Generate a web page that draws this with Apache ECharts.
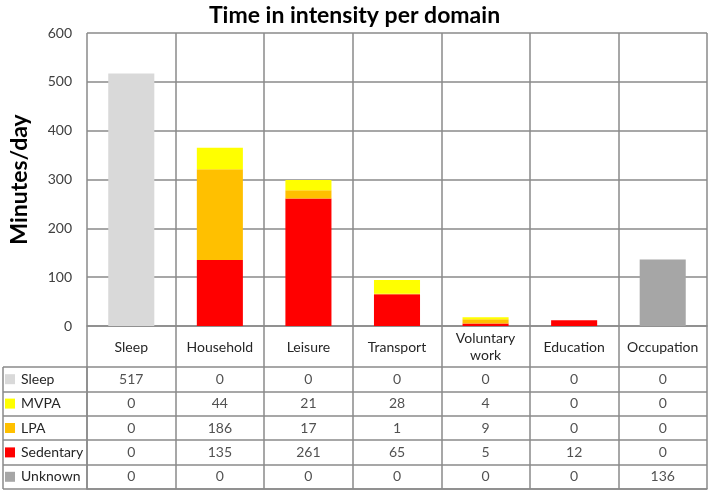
<!DOCTYPE html>
<html><head><meta charset="utf-8">
<script src="https://cdn.jsdelivr.net/npm/echarts@6/dist/echarts.min.js"></script>
<style>html,body{margin:0;padding:0;background:#fff}#c{width:709px;height:491px}</style>
</head><body><div id="c"></div>
<script>
const categories = ['Sleep','Household','Leisure','Transport','Voluntary\nwork','Education','Occupation'];
const sleep     = [517, 0, 0, 0, 0, 0, 0];
const mvpa      = [0, 44, 21, 28, 4, 0, 0];
const lpa       = [0, 186, 17, 1, 9, 0, 0];
const sedentary = [0, 135, 261, 65, 5, 12, 0];
const unknown   = [0, 0, 0, 0, 0, 0, 136];
const yTicks = [0, 100, 600];

const rows = [
  {name:'Sleep', data:sleep, color:'#d9d9d9'},
  {name:'MVPA', data:mvpa, color:'#ffff00'},
  {name:'LPA', data:lpa, color:'#ffc000'},
  {name:'Sedentary', data:sedentary, color:'#ff0000'},
  {name:'Unknown', data:unknown, color:'#a6a6a6'}
];
const stackOrder = ['Sedentary','LPA','MVPA','Sleep','Unknown'];
const FONT = 'Lato';
const GRID = '#8a8a8a';

const chart = echarts.init(document.getElementById('c'), null, {renderer:'canvas'});

const barSeries = stackOrder.map(n => {
  const r = rows.find(x => x.name === n);
  return {name:n, type:'bar', stack:'all', xAxisIndex:0, yAxisIndex:0,
    barWidth:'52%', data:r.data, itemStyle:{color:r.color}, silent:true};
});

const tableData = [];
rows.forEach((r, ri) => r.data.forEach((v, ci) => tableData.push([ci, ri, v])));

const rich = {};
rows.forEach((r, i) => { rich['s'+i] = {width:10, height:10, backgroundColor:r.color}; });
rich.t = {fontFamily:FONT, fontSize:14, color:'#262626', padding:[0,0,0,6]};

chart.setOption({
  animation:false,
  title:{text:'Time in intensity per domain', left:'center', top:-1,
    textStyle:{fontFamily:FONT, fontSize:23, fontWeight:'bold', color:'#000'}},
  grid:[
    {left:87, right:2, top:33, bottom:165},
    {left:87, right:2, top:367, bottom:2}
  ],
  xAxis:[
    {type:'category', gridIndex:0, data:categories, boundaryGap:true,
      axisLine:{show:true, lineStyle:{color:GRID, width:1.5}},
      axisTick:{show:true, length:41, lineStyle:{color:GRID, width:1.5}},
      axisLabel:{fontFamily:FONT, fontSize:14, color:'#262626', margin:21, verticalAlign:'middle', lineHeight:17, interval:0},
      splitLine:{show:true, lineStyle:{color:GRID, width:1.5}}},
    {type:'category', gridIndex:1, data:categories, boundaryGap:true,
      axisLine:{show:true, lineStyle:{color:GRID, width:1.5}},
      axisTick:{show:false}, axisLabel:{show:false},
      splitLine:{show:true, lineStyle:{color:GRID, width:1.5}}}
  ],
  yAxis:[
    {type:'value', gridIndex:0, min:yTicks[0], max:yTicks[2], interval:yTicks[1],
      name:'Minutes/day', nameLocation:'middle', nameGap:56,
      nameTextStyle:{fontFamily:FONT, fontSize:23, fontWeight:'bold', color:'#000'},
      axisLine:{show:false}, axisTick:{show:false},
      axisLabel:{fontFamily:FONT, fontSize:14, color:'#404040', margin:15},
      splitLine:{show:true, lineStyle:{color:GRID, width:1.5}}},
    {type:'category', gridIndex:1, inverse:true, data:rows.map(r => r.name),
      axisLine:{show:true, lineStyle:{color:GRID, width:1.5}},
      axisTick:{show:true, length:84, lineStyle:{color:GRID, width:1.5}},
      axisLabel:{align:'left', margin:82, formatter:(v, i) => '{s'+i+'|}{t|'+v+'}', rich:rich},
      splitLine:{show:true, lineStyle:{color:GRID, width:1.5}}}
  ],
  series:[...barSeries, {
    type:'scatter', xAxisIndex:1, yAxisIndex:1, data:tableData, symbolSize:1,
    itemStyle:{color:'rgba(0,0,0,0)'}, silent:true,
    label:{show:true, position:'inside', formatter:p => String(p.value[2]),
      fontFamily:FONT, fontSize:14, color:'#262626'}
  }],
  graphic:[{type:'line', shape:{x1:3, y1:367, x2:3, y2:489}, style:{stroke:GRID, lineWidth:1.5}}]
});
</script></body></html>
